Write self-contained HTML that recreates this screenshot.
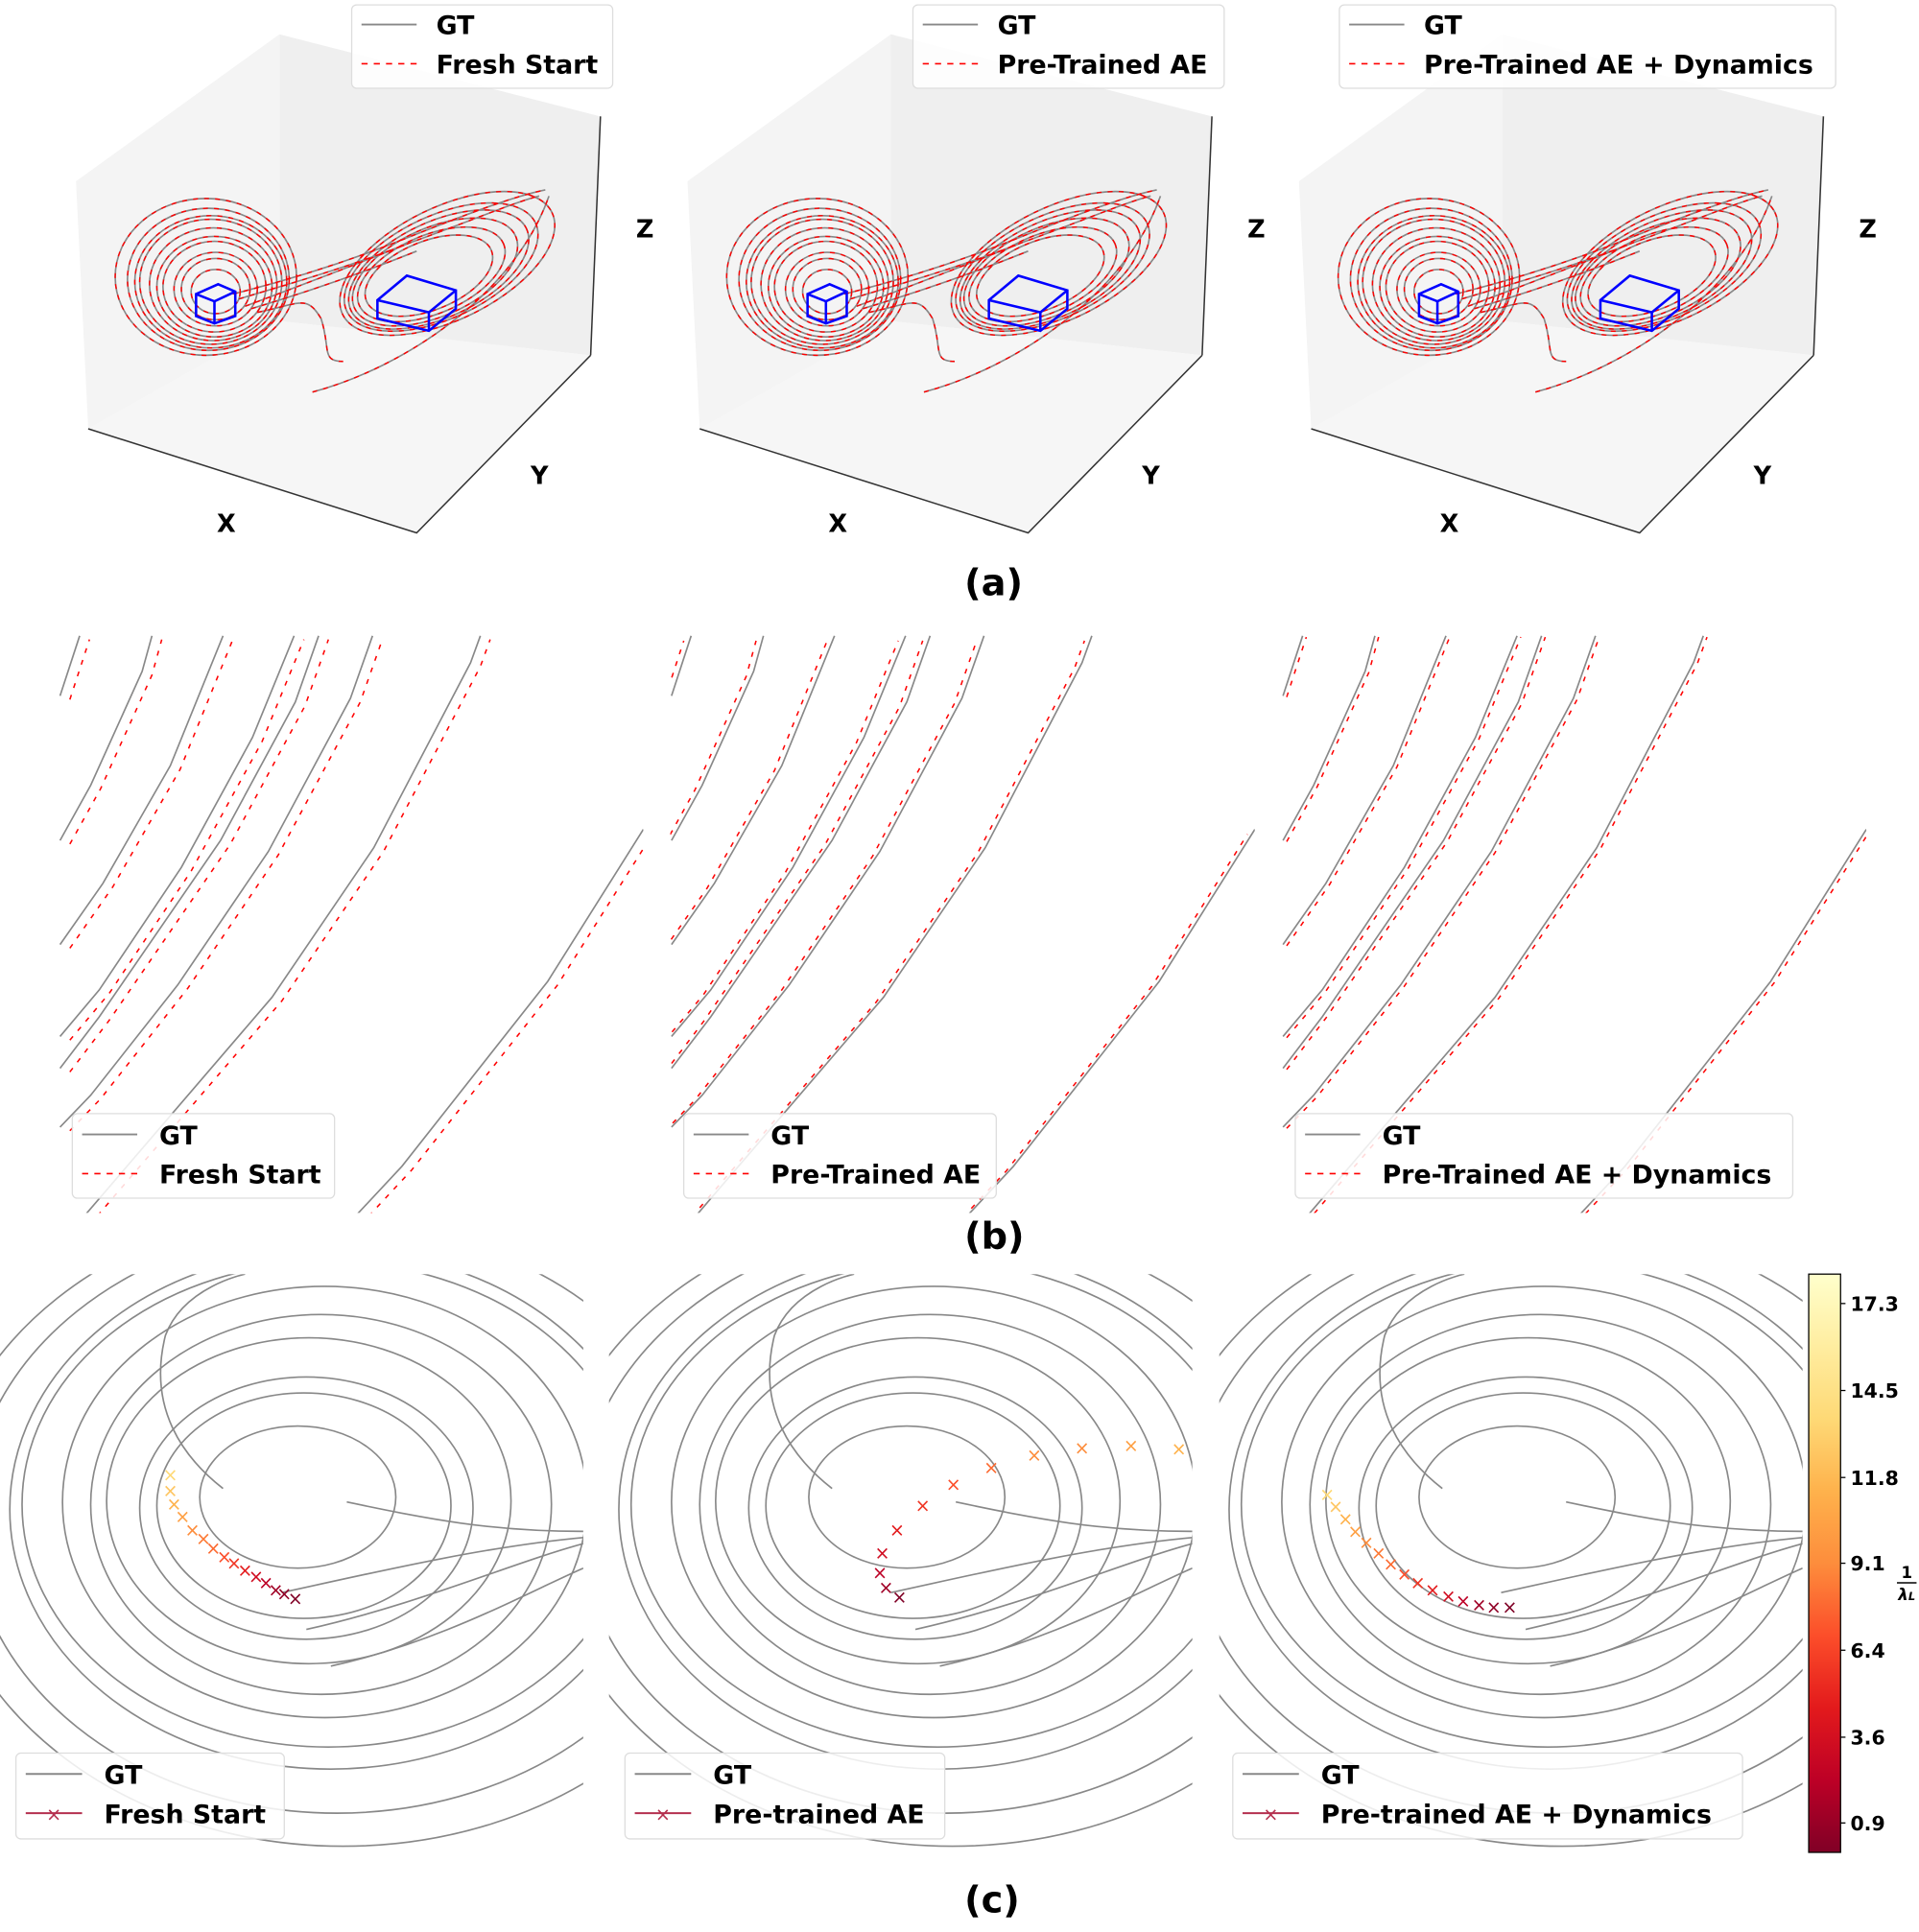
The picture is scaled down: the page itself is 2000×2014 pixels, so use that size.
<!DOCTYPE html>
<html><head><meta charset="utf-8"><style>
html,body{margin:0;padding:0;background:#fff}
svg{display:block}
text{font-family:"DejaVu Sans","Liberation Sans",sans-serif;font-weight:bold;fill:#000}
</style></head><body>
<svg width="2000" height="2014" viewBox="0 0 1566 1577" preserveAspectRatio="none" xmlns="http://www.w3.org/2000/svg">
<defs>
<linearGradient id="cb" x1="0" y1="1" x2="0" y2="0">
<stop offset="0" stop-color="#800026"/><stop offset="0.125" stop-color="#bd0026"/><stop offset="0.25" stop-color="#e31a1c"/><stop offset="0.375" stop-color="#fc4e2a"/><stop offset="0.5" stop-color="#fd8d3c"/><stop offset="0.625" stop-color="#feb24c"/><stop offset="0.75" stop-color="#fed976"/><stop offset="0.875" stop-color="#ffeda0"/><stop offset="1" stop-color="#ffffcc"/>
</linearGradient>
<g id="box3d">
<polygon points="62,148 228,28 228,262 72,350" fill="#f4f4f4"/>
<polygon points="228,28 490,95 482,290 228,262" fill="#efefef"/>
<polygon points="72,350 228,262 482,290 340,435" fill="#f6f6f6"/>
<polyline points="72,350 340,435 482,290" fill="none" stroke="#333" stroke-width="1.2"/>
<line x1="490" y1="95" x2="482" y2="290" stroke="#333" stroke-width="1.2"/>
</g>
<g id="attr" fill="none">
<ellipse cx="176" cy="238" rx="20" ry="18"/>
<ellipse cx="176" cy="236" rx="28" ry="25"/>
<ellipse cx="176" cy="236" rx="34" ry="30"/>
<ellipse cx="175" cy="234" rx="42" ry="37"/>
<ellipse cx="175" cy="234" rx="47" ry="41"/>
<ellipse cx="174" cy="232" rx="52" ry="46"/>
<ellipse cx="172" cy="230" rx="58" ry="51"/>
<ellipse cx="172" cy="230" rx="62" ry="54"/>
<ellipse cx="170" cy="228" rx="66" ry="58"/>
<ellipse cx="168" cy="226" rx="74" ry="64"/>
<ellipse cx="350" cy="225" rx="55" ry="28" transform="rotate(-22 350 225)"/>
<ellipse cx="352" cy="224" rx="64" ry="32" transform="rotate(-23 352 224)"/>
<ellipse cx="355" cy="222" rx="72" ry="36" transform="rotate(-24 355 222)"/>
<ellipse cx="358" cy="220" rx="79" ry="39" transform="rotate(-25 358 220)"/>
<ellipse cx="360" cy="218" rx="85" ry="42" transform="rotate(-25 360 218)"/>
<ellipse cx="365" cy="215" rx="95" ry="46" transform="rotate(-26 365 215)"/>
<path d="M190,240 C230,230 280,215 330,195 C380,175 420,160 445,155"/>
<path d="M195,244 C235,232 285,218 335,198 C385,180 420,165 440,160"/>
<path d="M200,250 C240,235 280,220 330,200"/>
<path d="M205,252 C245,240 290,225 340,205"/>
<path d="M210,255 C245,248 250,240 262,260 C270,285 262,295 280,295"/>
<path d="M255,320 C330,300 420,240 448,160"/>
</g>
<g id="cubes" fill="none" stroke="#00f" stroke-width="2">
<polygon points="160,240 178,232 192,238 192,258 175,264 160,258"/>
<polyline points="160,240 175,246 192,238"/><line x1="175" y1="246" x2="175" y2="264"/>
<polygon points="308,245 332,225 372,237 372,252 350,270 308,260"/>
<polyline points="308,245 350,255 372,237"/><line x1="350" y1="255" x2="350" y2="270"/>
</g>
<g id="blines" fill="none">
<path d="M49,568 L65,519"/>
<path d="M49,686 L74,641 L116,548 L124,519"/>
<path d="M49,771 L84,721 L139,625 L182,519"/>
<path d="M49,846 L81,808 L148,708 L206,602 L240,519"/>
<path d="M49,872 L81,830 L180,686 L241,573 L260,519"/>
<path d="M49,920 L74,894 L145,804 L219,695 L286,570 L304,519"/>
<path d="M65,997 L222,814 L305,692 L384,541 L392,519"/>
<path d="M286,997 L328,952 L447,801 L525,677"/>
</g>
<g id="cell" fill="none" stroke="#888" stroke-width="1.3">
<ellipse cx="243" cy="1222" rx="80" ry="58"/>
<ellipse cx="248" cy="1229" rx="120" ry="92"/>
<ellipse cx="250" cy="1231" rx="136" ry="107"/>
<ellipse cx="252" cy="1225" rx="165" ry="133"/>
<ellipse cx="262" cy="1228" rx="188" ry="155"/>
<ellipse cx="265" cy="1226" rx="214" ry="176"/>
<ellipse cx="268" cy="1228" rx="250" ry="198"/>
<ellipse cx="270" cy="1232" rx="262" ry="212"/>
<ellipse cx="275" cy="1240" rx="300" ry="240"/>
<ellipse cx="280" cy="1245" rx="330" ry="262"/>
<path d="M182,1215 C150,1190 120,1150 135,1090 C150,1050 200,1040 200,1040"/>
<path d="M283,1226 C350,1240 400,1250 476,1250"/>
<path d="M230,1300 C320,1280 400,1262 476,1255"/>
<path d="M250,1330 C340,1310 420,1275 476,1260"/>
<path d="M270,1360 C360,1340 430,1300 476,1280"/>
</g>
<clipPath id="cp"><rect x="0" y="1040" width="476" height="472"/></clipPath>
<clipPath id="bp"><rect x="48" y="515" width="477" height="475"/></clipPath>
</defs>

<!-- (a) -->
<g id="pa1">
<use href="#box3d"/>
<use href="#attr" stroke="#888" stroke-width="1.3"/>
<use href="#attr" stroke="#f00" stroke-width="1.1" stroke-dasharray="4 5"/>
<use href="#cubes"/>
</g>
<use href="#pa1" transform="translate(499,0)"/>
<use href="#pa1" transform="translate(998,0)"/>
<g font-size="20">
<text x="177" y="434">X</text><text x="433" y="395">Y</text><text x="519" y="194">Z</text>
<text x="676" y="434">X</text><text x="932" y="395">Y</text><text x="1018" y="194">Z</text>
<text x="1175" y="434">X</text><text x="1431" y="395">Y</text><text x="1517" y="194">Z</text>
</g>
<g font-size="21">
<rect x="287" y="4" width="213" height="68" rx="4" fill="#fff" fill-opacity="0.85" stroke="#ddd"/>
<line x1="295" y1="20" x2="340" y2="20" stroke="#888" stroke-width="1.5"/><line x1="295" y1="52" x2="340" y2="52" stroke="#f00" stroke-width="1.3" stroke-dasharray="5 5"/>
<text x="356" y="28">GT</text><text x="356" y="60">Fresh Start</text>
<rect x="745" y="4" width="254" height="68" rx="4" fill="#fff" fill-opacity="0.85" stroke="#ddd"/>
<line x1="753" y1="20" x2="798" y2="20" stroke="#888" stroke-width="1.5"/><line x1="753" y1="52" x2="798" y2="52" stroke="#f00" stroke-width="1.3" stroke-dasharray="5 5"/>
<text x="814" y="28">GT</text><text x="814" y="60">Pre-Trained AE</text>
<rect x="1093" y="4" width="405" height="68" rx="4" fill="#fff" fill-opacity="0.85" stroke="#ddd"/>
<line x1="1101" y1="20" x2="1146" y2="20" stroke="#888" stroke-width="1.5"/><line x1="1101" y1="52" x2="1146" y2="52" stroke="#f00" stroke-width="1.3" stroke-dasharray="5 5"/>
<text x="1162" y="28">GT</text><text x="1162" y="60">Pre-Trained AE + Dynamics</text>
</g>
<text x="787" y="486" font-size="30">(a)</text>

<!-- (b) -->
<g id="pb1" clip-path="url(#bp)">
<use href="#blines" stroke="#888" stroke-width="1.3"/>
<use href="#blines" stroke="#f00" stroke-width="1.2" stroke-dasharray="4 6" transform="translate(8,3)"/>
</g>
<g transform="translate(499,0)"><g clip-path="url(#bp)">
<use href="#blines" stroke="#888" stroke-width="1.3"/>
<use href="#blines" stroke="#f00" stroke-width="1.2" stroke-dasharray="4 6" transform="translate(-6,4)"/>
</g></g>
<g transform="translate(998,0)"><g clip-path="url(#bp)">
<use href="#blines" stroke="#888" stroke-width="1.3"/>
<use href="#blines" stroke="#f00" stroke-width="1.2" stroke-dasharray="4 6" transform="translate(3,1)"/>
</g></g>
<g font-size="21">
<rect x="59" y="909" width="214" height="69" rx="4" fill="#fff" fill-opacity="0.85" stroke="#ddd"/>
<line x1="67" y1="926" x2="112" y2="926" stroke="#888" stroke-width="1.5"/><line x1="67" y1="958" x2="112" y2="958" stroke="#f00" stroke-width="1.3" stroke-dasharray="5 5"/>
<text x="130" y="934">GT</text><text x="130" y="966">Fresh Start</text>
<rect x="558" y="909" width="255" height="69" rx="4" fill="#fff" fill-opacity="0.85" stroke="#ddd"/>
<line x1="566" y1="926" x2="611" y2="926" stroke="#888" stroke-width="1.5"/><line x1="566" y1="958" x2="611" y2="958" stroke="#f00" stroke-width="1.3" stroke-dasharray="5 5"/>
<text x="629" y="934">GT</text><text x="629" y="966">Pre-Trained AE</text>
<rect x="1057" y="909" width="406" height="69" rx="4" fill="#fff" fill-opacity="0.85" stroke="#ddd"/>
<line x1="1065" y1="926" x2="1110" y2="926" stroke="#888" stroke-width="1.5"/><line x1="1065" y1="958" x2="1110" y2="958" stroke="#f00" stroke-width="1.3" stroke-dasharray="5 5"/>
<text x="1128" y="934">GT</text><text x="1128" y="966">Pre-Trained AE + Dynamics</text>
</g>
<text x="787" y="1019" font-size="30">(b)</text>

<!-- (c) -->
<g clip-path="url(#cp)"><use href="#cell"/></g>
<g transform="translate(497,0)"><g clip-path="url(#cp)"><use href="#cell"/></g></g>
<g transform="translate(995,0)"><g clip-path="url(#cp)"><use href="#cell"/></g></g>
<g font-size="15" text-anchor="middle" font-weight="normal">
<text x="139" y="1209" style="font-weight:normal;fill:#fed976">×</text>
<text x="139" y="1222" style="font-weight:normal;fill:#fec560">×</text>
<text x="142" y="1233" style="font-weight:normal;fill:#feb24c">×</text>
<text x="149" y="1243" style="font-weight:normal;fill:#fea044">×</text>
<text x="157" y="1254" style="font-weight:normal;fill:#fd8d3c">×</text>
<text x="166" y="1261" style="font-weight:normal;fill:#fd7a35">×</text>
<text x="174" y="1269" style="font-weight:normal;fill:#fc6a30">×</text>
<text x="183" y="1276" style="font-weight:normal;fill:#fc4e2a">×</text>
<text x="191" y="1281" style="font-weight:normal;fill:#f03523">×</text>
<text x="200" y="1287" style="font-weight:normal;fill:#e31a1c">×</text>
<text x="209" y="1292" style="font-weight:normal;fill:#d00d21">×</text>
<text x="217" y="1297" style="font-weight:normal;fill:#bd0026">×</text>
<text x="225" y="1303" style="font-weight:normal;fill:#a00026">×</text>
<text x="232" y="1306" style="font-weight:normal;fill:#900026">×</text>
<text x="241" y="1310" style="font-weight:normal;fill:#800026">×</text>

<text x="962" y="1188" style="font-weight:normal;fill:#feb24c">×</text>
<text x="923" y="1185" style="font-weight:normal;fill:#fea044">×</text>
<text x="883" y="1187" style="font-weight:normal;fill:#fd8d3c">×</text>
<text x="844" y="1193" style="font-weight:normal;fill:#fd8d3c">×</text>
<text x="809" y="1203" style="font-weight:normal;fill:#fc6a30">×</text>
<text x="778" y="1217" style="font-weight:normal;fill:#fc4e2a">×</text>
<text x="753" y="1234" style="font-weight:normal;fill:#f03523">×</text>
<text x="732" y="1254" style="font-weight:normal;fill:#e31a1c">×</text>
<text x="720" y="1273" style="font-weight:normal;fill:#d00d21">×</text>
<text x="718" y="1289" style="font-weight:normal;fill:#bd0026">×</text>
<text x="723" y="1301" style="font-weight:normal;fill:#a00026">×</text>
<text x="734" y="1309" style="font-weight:normal;fill:#800026">×</text>

<text x="1083" y="1225" style="font-weight:normal;fill:#fed976">×</text>
<text x="1090" y="1235" style="font-weight:normal;fill:#fec560">×</text>
<text x="1098" y="1245" style="font-weight:normal;fill:#feb24c">×</text>
<text x="1106" y="1255" style="font-weight:normal;fill:#fea044">×</text>
<text x="1115" y="1264" style="font-weight:normal;fill:#fd8d3c">×</text>
<text x="1125" y="1273" style="font-weight:normal;fill:#fd7a35">×</text>
<text x="1135" y="1282" style="font-weight:normal;fill:#fc6a30">×</text>
<text x="1146" y="1290" style="font-weight:normal;fill:#fc4e2a">×</text>
<text x="1157" y="1297" style="font-weight:normal;fill:#f03523">×</text>
<text x="1169" y="1303" style="font-weight:normal;fill:#e31a1c">×</text>
<text x="1182" y="1308" style="font-weight:normal;fill:#d00d21">×</text>
<text x="1194" y="1312" style="font-weight:normal;fill:#bd0026">×</text>
<text x="1207" y="1315" style="font-weight:normal;fill:#a00026">×</text>
<text x="1219" y="1317" style="font-weight:normal;fill:#900026">×</text>
<text x="1232" y="1317" style="font-weight:normal;fill:#800026">×</text>
</g>
<g font-size="21">
<rect x="13" y="1431" width="219" height="70" rx="4" fill="#fff" fill-opacity="0.85" stroke="#ddd"/>
<line x1="21" y1="1448" x2="67" y2="1448" stroke="#888" stroke-width="1.5"/><line x1="21" y1="1480" x2="67" y2="1480" stroke="#b5304f" stroke-width="1.5"/>
<text x="44" y="1486" font-size="15" text-anchor="middle" style="font-weight:normal;fill:#b5304f">×</text>
<text x="85" y="1456">GT</text><text x="85" y="1488">Fresh Start</text>
<rect x="510" y="1431" width="261" height="70" rx="4" fill="#fff" fill-opacity="0.85" stroke="#ddd"/>
<line x1="518" y1="1448" x2="564" y2="1448" stroke="#888" stroke-width="1.5"/><line x1="518" y1="1480" x2="564" y2="1480" stroke="#b5304f" stroke-width="1.5"/>
<text x="541" y="1486" font-size="15" text-anchor="middle" style="font-weight:normal;fill:#b5304f">×</text>
<text x="582" y="1456">GT</text><text x="582" y="1488">Pre-trained AE</text>
<rect x="1006" y="1431" width="416" height="70" rx="4" fill="#fff" fill-opacity="0.85" stroke="#ddd"/>
<line x1="1014" y1="1448" x2="1060" y2="1448" stroke="#888" stroke-width="1.5"/><line x1="1014" y1="1480" x2="1060" y2="1480" stroke="#b5304f" stroke-width="1.5"/>
<text x="1037" y="1486" font-size="15" text-anchor="middle" style="font-weight:normal;fill:#b5304f">×</text>
<text x="1078" y="1456">GT</text><text x="1078" y="1488">Pre-trained AE + Dynamics</text>
</g>
<rect x="1476" y="1040" width="26" height="472" fill="url(#cb)" stroke="#000" stroke-width="1"/>
<g font-size="16">
<line x1="1502" y1="1064" x2="1506" y2="1064" stroke="#000"/><text x="1510" y="1070">17.3</text>
<line x1="1502" y1="1135" x2="1506" y2="1135" stroke="#000"/><text x="1510" y="1141">14.5</text>
<line x1="1502" y1="1206" x2="1506" y2="1206" stroke="#000"/><text x="1510" y="1212">11.8</text>
<line x1="1502" y1="1276" x2="1506" y2="1276" stroke="#000"/><text x="1510" y="1282">9.1</text>
<line x1="1502" y1="1347" x2="1506" y2="1347" stroke="#000"/><text x="1510" y="1353">6.4</text>
<line x1="1502" y1="1418" x2="1506" y2="1418" stroke="#000"/><text x="1510" y="1424">3.6</text>
<line x1="1502" y1="1488" x2="1506" y2="1488" stroke="#000"/><text x="1510" y="1494">0.9</text>
</g>
<text x="1556" y="1288" font-size="13" text-anchor="middle">1</text>
<line x1="1548" y1="1292" x2="1564" y2="1292" stroke="#000" stroke-width="1.2"/>
<text x="1556" y="1306" font-size="13" text-anchor="middle" font-style="italic">λ<tspan font-size="9">L</tspan></text>
<text x="787" y="1561" font-size="30">(c)</text>
</svg>
</body></html>
